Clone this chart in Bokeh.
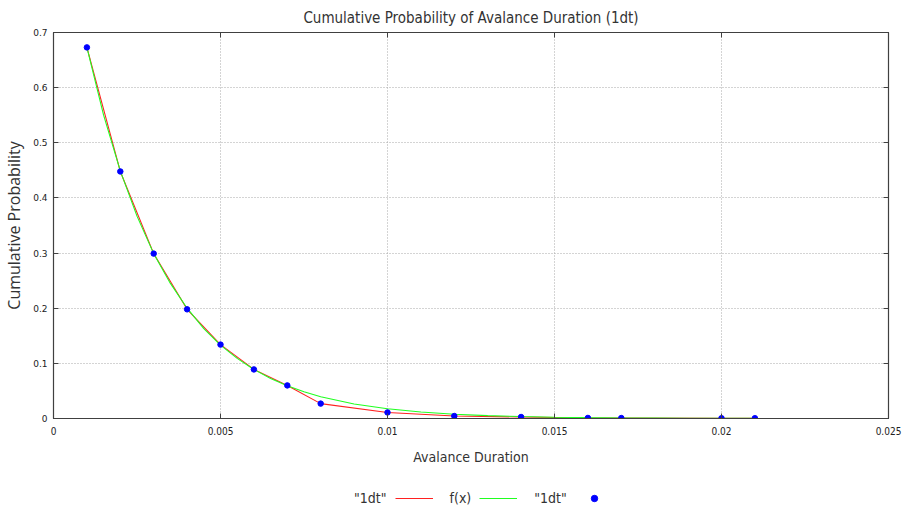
from bokeh.plotting import figure
from bokeh.layouts import column
from bokeh.models import Range1d, LinearAxis, Legend, LegendItem, FixedTicker
from bokeh.embed import file_html
from bokeh.resources import INLINE

# ---- data ----
data_x = [0.001, 0.002, 0.003, 0.004, 0.005, 0.006, 0.007, 0.008,
          0.010, 0.012, 0.014, 0.016, 0.017, 0.020, 0.021]
data_y = [0.673, 0.448, 0.299, 0.198, 0.134, 0.089, 0.060, 0.027,
          0.011, 0.0045, 0.0027, 0.0010, 0.0008, 0.0005, 0.0005]

fit_x = [0.001, 0.0015, 0.002, 0.0025, 0.003, 0.0035, 0.004, 0.0045,
         0.005, 0.0055, 0.006, 0.0065, 0.007, 0.0075, 0.008, 0.009,
         0.010, 0.011, 0.012, 0.013, 0.014, 0.015, 0.016, 0.017,
         0.018, 0.019, 0.020, 0.021]
fit_y = [0.673, 0.550, 0.449, 0.367, 0.299, 0.245, 0.200, 0.163,
         0.133, 0.109, 0.089, 0.0725, 0.0593, 0.0484, 0.0395, 0.0263,
         0.0176, 0.0117, 0.0078, 0.0052, 0.0035, 0.0023, 0.0015, 0.0010,
         0.0007, 0.00046, 0.0003, 0.0002]

x_ticks = [0, 0.005, 0.01, 0.015, 0.02, 0.025]
x_tick_labels = ["0", "0.005", "0.01", "0.015", "0.02", "0.025"]
y_ticks = [0, 0.1, 0.2, 0.3, 0.4, 0.5, 0.6, 0.7]
y_tick_labels = ["0", "0.1", "0.2", "0.3", "0.4", "0.5", "0.6", "0.7"]

title_text = "Cumulative Probability of Avalance Duration (1dt)"
x_label = "Avalance Duration"
y_label = "Cumulative Probability"
legend_labels = ['"1dt"', "f(x)", '"1dt"']

NARROW = "DejaVu Sans Condensed"
RED, GREEN, BLUE = "#ff2020", "#20ff20", "#0000ff"
NAN = float("nan")

p = figure(width=902, height=470, output_backend="svg", toolbar_location=None,
           x_range=Range1d(0, 0.025), y_range=Range1d(0, 0.7),
           min_border_left=50, min_border_right=14, min_border_top=32,
           min_border_bottom=52)
p.background_fill_color = "white"
p.border_fill_color = "white"
p.outline_line_color = "#404040"
p.outline_line_width = 1.2

p.title.text = title_text
p.title.align = "center"
p.title.text_font = NARROW
p.title.text_font_size = "15px"
p.title.text_font_style = "normal"
p.title.text_color = "#333333"
p.title.standoff = 12

for ax in (p.xaxis[0], p.yaxis[0]):
    ax.major_tick_in = 5
    ax.major_tick_out = 0
    ax.minor_tick_line_color = None
    ax.axis_line_color = "#404040"
    ax.major_tick_line_color = "#404040"
    ax.major_label_text_color = "#222222"
    ax.axis_label_text_color = "#333333"
    ax.axis_label_text_font_style = "normal"

p.xaxis.ticker = FixedTicker(ticks=x_ticks)
p.xaxis.major_label_overrides = dict(zip(x_ticks, x_tick_labels))
p.xaxis.major_label_text_font = NARROW
p.xaxis.major_label_text_font_size = "10px"
p.xaxis.major_label_standoff = 8
p.xaxis.axis_label = x_label
p.xaxis.axis_label_text_font = NARROW
p.xaxis.axis_label_text_font_size = "14px"
p.xaxis.axis_label_standoff = 11

p.yaxis.ticker = FixedTicker(ticks=y_ticks)
p.yaxis.major_label_overrides = dict(zip(y_ticks, y_tick_labels))
p.yaxis.major_label_text_font = "DejaVu Sans"
p.yaxis.major_label_text_font_size = "9px"
p.yaxis.major_label_standoff = 6
p.yaxis.axis_label = y_label
p.yaxis.axis_label_text_font = "Open Sans"
p.yaxis.axis_label_text_font_size = "16px"
p.yaxis.axis_label_standoff = 5

# mirrored ticks on top and right (no labels)
top_ax = LinearAxis(ticker=FixedTicker(ticks=x_ticks), major_tick_in=5, major_tick_out=0,
                    minor_tick_line_color=None,
                    major_label_overrides={t: "" for t in x_ticks},
                    axis_line_color="#404040", major_tick_line_color="#404040",
                    major_label_standoff=0)
right_ax = LinearAxis(ticker=FixedTicker(ticks=y_ticks), major_tick_in=5, major_tick_out=0,
                      minor_tick_line_color=None,
                      major_label_overrides={t: "" for t in y_ticks},
                      axis_line_color="#404040", major_tick_line_color="#404040",
                      major_label_standoff=0)
p.add_layout(top_ax, "above")
p.add_layout(right_ax, "right")

p.xgrid.ticker = FixedTicker(ticks=x_ticks[1:-1])
p.ygrid.ticker = FixedTicker(ticks=y_ticks[1:-1])
for g in (p.xgrid[0], p.ygrid[0]):
    g.grid_line_color = "#a8a8a8"
    g.grid_line_dash = "1 2"
    g.grid_line_width = 1

p.line(data_x, data_y, line_color=RED, line_width=1.1)
p.line(fit_x, fit_y, line_color=GREEN, line_width=1.1)
p.scatter(data_x, data_y, size=5.5, color=BLUE)

# ---- legend strip below the chart (gnuplot style: text before sample) ----
lf = figure(width=902, height=43, output_backend="svg", toolbar_location=None,
            x_range=Range1d(0, 1), y_range=Range1d(0, 1),
            x_axis_location=None, y_axis_location=None, min_border=0)
lf.outline_line_color = None
lf.grid.visible = False
lf.background_fill_color = "white"
lf.border_fill_color = "white"
# key renderers hold no drawable point (NaN); they only style the legend samples
k0 = lf.line([NAN], [NAN], line_alpha=0)
k1 = lf.line([NAN], [NAN], line_color=RED, line_width=1.1)
k2 = lf.line([NAN], [NAN], line_color=GREEN, line_width=1.1)
k3 = lf.scatter([NAN], [NAN], size=5.5, color=BLUE)

legend = Legend(items=[
    LegendItem(label=legend_labels[0], renderers=[k0]),
    LegendItem(label=legend_labels[1], renderers=[k1]),
    LegendItem(label=legend_labels[2], renderers=[k2]),
    LegendItem(label=" ", renderers=[k3]),
], orientation="horizontal", location=(246, 7))
legend.border_line_color = None
legend.background_fill_alpha = 0
legend.label_text_font = NARROW
legend.label_text_font_size = "14px"
legend.label_text_color = "#333333"
legend.glyph_width = 38
legend.glyph_height = 16
legend.label_height = 16
legend.label_standoff = 17
legend.spacing = 8
legend.padding = 4
legend.margin = 0
lf.add_layout(legend, "center")

layout = column(p, lf, spacing=0)
open("out.html", "w").write(file_html(layout, INLINE))
